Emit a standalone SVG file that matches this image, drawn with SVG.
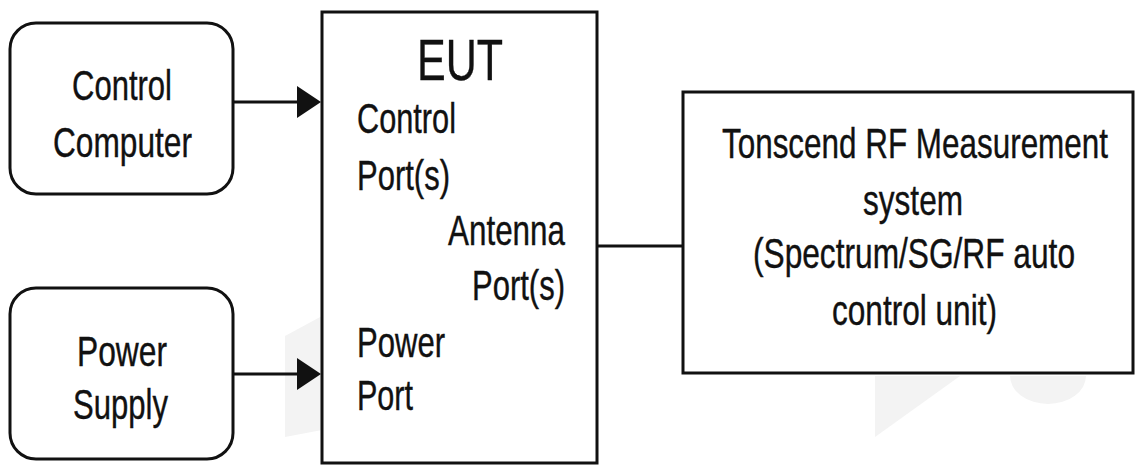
<svg xmlns="http://www.w3.org/2000/svg" width="1137" height="465" viewBox="0 0 1137 465">
<defs>
<style>
.box{fill:none;stroke:#111;stroke-width:3}
.conn{fill:none;stroke:#111;stroke-width:3}
.t{font-family:"Liberation Sans",Arial,sans-serif;font-size:32px;fill:#111;stroke:#111;stroke-width:0.3}
.big{font-size:44px}
.wm{fill:#f3f3f3;stroke:none}
</style>
</defs>
<rect width="1137" height="465" fill="#fff"/>
<g id="watermark">
<path class="wm" d="M285,336 L322,316 L322,430 L285,437 Z"/>
<path class="wm" d="M875,376 L960,376 L875,437 Z"/>
<path class="wm" d="M1010,376 A38,28 0 0 0 1086,376 Z"/>
</g>
<g id="connectors">
<line class="conn" x1="233" y1="102" x2="298" y2="102"/>
<path d="M297,86 L321,102 L297,118 Z" fill="#111"/>
<line class="conn" x1="233" y1="374" x2="298" y2="374"/>
<path d="M297,358 L321,374 L297,390 Z" fill="#111"/>
<line class="conn" x1="597" y1="246" x2="683" y2="246"/>
</g>
<g id="control-computer">
<rect class="box" x="10" y="23" width="223" height="171" rx="26"/>
<g transform="scale(1 1.3125)">
<text class="t" x="72" y="76.19" textLength="100" lengthAdjust="spacingAndGlyphs">Control</text>
<text class="t" x="53" y="119.62" textLength="139" lengthAdjust="spacingAndGlyphs">Computer</text>
</g>
</g>
<g id="power-supply">
<rect class="box" x="10" y="288" width="223" height="171" rx="26"/>
<g transform="scale(1 1.3125)">
<text class="t" x="77" y="278.86" textLength="90" lengthAdjust="spacingAndGlyphs">Power</text>
<text class="t" x="73" y="319.24" textLength="95" lengthAdjust="spacingAndGlyphs">Supply</text>
</g>
</g>
<g id="eut">
<rect class="box" x="322" y="12" width="275" height="451"/>
<g transform="scale(1 1.3125)">
<text class="t big" x="417" y="60.95" textLength="86" lengthAdjust="spacingAndGlyphs">EUT</text>
<text class="t" x="357" y="101.33" textLength="99" lengthAdjust="spacingAndGlyphs">Control</text>
<text class="t" x="357" y="144.76" textLength="93" lengthAdjust="spacingAndGlyphs">Port(s)</text>
<text class="t" x="448" y="186.67" textLength="117" lengthAdjust="spacingAndGlyphs">Antenna</text>
<text class="t" x="472" y="228.57" textLength="93" lengthAdjust="spacingAndGlyphs">Port(s)</text>
<text class="t" x="357" y="272" textLength="88" lengthAdjust="spacingAndGlyphs">Power</text>
<text class="t" x="357" y="312.38" textLength="56" lengthAdjust="spacingAndGlyphs">Port</text>
</g>
</g>
<g id="tonscend">
<rect class="box" x="683" y="92" width="450" height="281"/>
<g transform="scale(1 1.3125)">
<text class="t" x="722" y="120.38" textLength="386" lengthAdjust="spacingAndGlyphs">Tonscend RF Measurement</text>
<text class="t" x="863" y="163.81" textLength="100" lengthAdjust="spacingAndGlyphs">system</text>
<text class="t" x="753" y="204.19" textLength="322" lengthAdjust="spacingAndGlyphs">(Spectrum/SG/RF auto</text>
<text class="t" x="832" y="247.62" textLength="165" lengthAdjust="spacingAndGlyphs">control unit)</text>
</g>
</g>
</svg>
